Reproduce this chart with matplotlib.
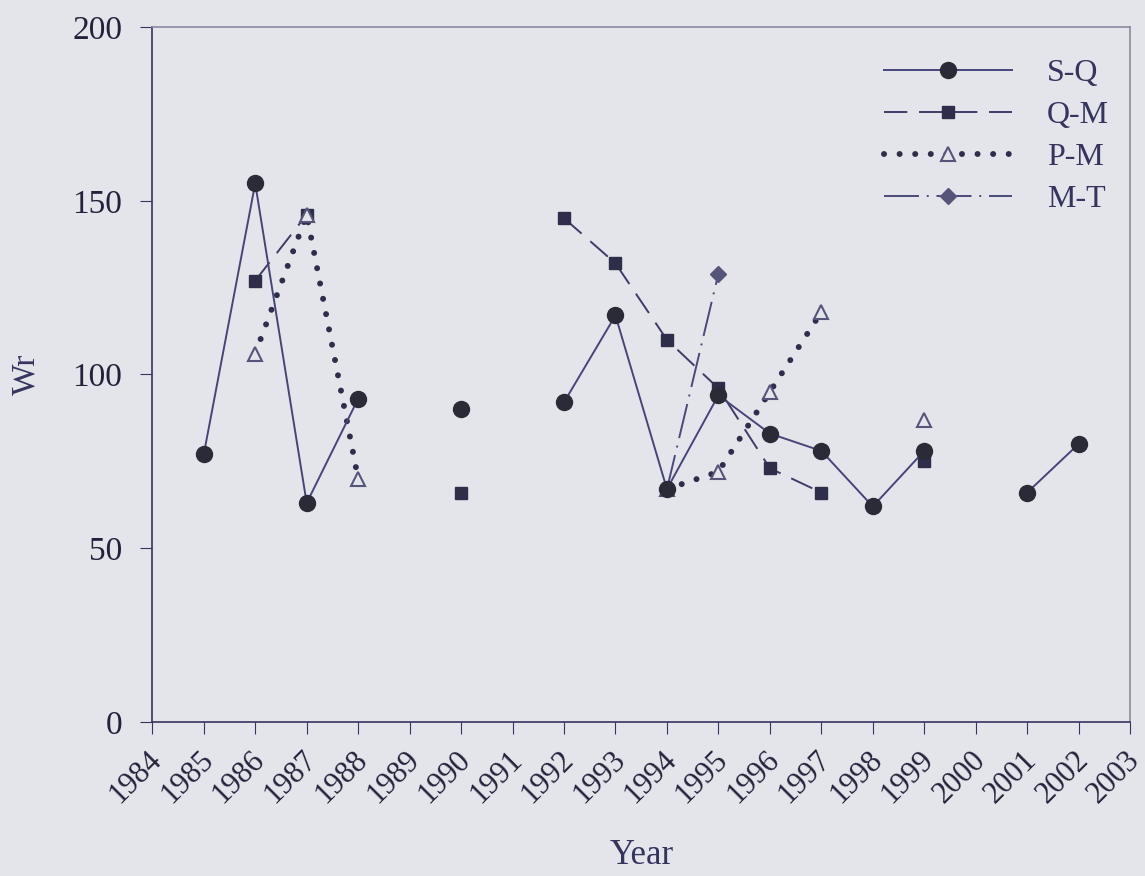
import numpy as np
import matplotlib
matplotlib.use("Agg")
import matplotlib.pyplot as plt
import matplotlib.transforms as mtransforms

years = list(range(1984, 2004))
nan = np.nan

# Wr per year, NaN where no value
sq = [nan, 77, 155, 63, 93, nan, 90, nan, 92, 117, 67, 94, 83, 78, 62, 78, nan, 66, 80, nan]
qm = [nan, nan, 127, 146, nan, nan, 66, nan, 145, 132, 110, 96, 73, 66, nan, 75, nan, nan, nan, nan]
pm = [nan, nan, 106, 146, 70, nan, nan, nan, nan, nan, 67, 72, 95, 118, nan, 87, nan, nan, nan, nan]
mt = [nan, nan, nan, nan, nan, nan, nan, nan, nan, nan, 67, 129, nan, nan, nan, nan, nan, nan, nan, nan]

bg = "#e4e5ea"
ink = "#34345e"

plt.rcParams["font.family"] = ["Liberation Serif", "DejaVu Serif"]

fig = plt.figure(figsize=(11.45, 8.76), dpi=100, facecolor=bg)
ax = fig.add_axes([0.133, 0.176, 0.854, 0.793], facecolor=bg)

ax.plot(years, qm, color="#3c3c66", lw=1.4, linestyle=(0, (12, 6)),
        marker="s", ms=8.5, mfc="#2e2e4a", mec="#2e2e4a", label="Q-M", zorder=3)
ax.plot(years, pm, color="#2e2e4a", lw=4.3, linestyle=(0, (0.01, 2.6)),
        dash_capstyle="round", marker="^", ms=10, mfc=bg, mec="#55557a",
        mew=1.5, label="P-M", zorder=4)
ax.plot(years, mt, color="#4a4a7a", lw=1.4, linestyle=(0, (18, 4, 1, 4)),
        marker="D", ms=8, mfc="#55557a", mec="#55557a", label="M-T", zorder=2)
ax.plot(years, sq, color="#45457a", lw=1.4, linestyle="-",
        marker="o", ms=11.5, mfc="#2b2b38", mec="#2b2b38", label="S-Q", zorder=5)

ax.set_xlim(1984, 2003)
ax.set_ylim(0, 200)
ax.set_xticks(years)
ax.set_yticks([0, 50, 100, 150, 200])
ax.tick_params(axis="y", labelsize=24, labelcolor="#22223a", length=8.5,
               color=ink, pad=13)
ax.tick_params(axis="x", length=8.5, color=ink, pad=4)
ax.set_xticklabels([str(y) for y in years], rotation=45, ha="right",
                   rotation_mode="anchor", fontsize=22, color="#22223a")
# nudge the rotated year labels (after tick_params, which resets transforms)
shift = mtransforms.ScaledTranslation(-5 / 100, -6 / 100, fig.dpi_scale_trans)
for lab in ax.get_xticklabels():
    lab.set_transform(lab.get_transform() + shift)

for s in ax.spines.values():
    s.set_color(ink)
    s.set_linewidth(1.2)
ax.spines["top"].set_color("#8a8aa0")
ax.spines["right"].set_color("#8a8aa0")

ax.set_xlabel("Year", fontsize=25, color=ink, labelpad=22)
ax.set_ylabel("Wr", fontsize=24, color=ink, labelpad=22)

handles, labels = ax.get_legend_handles_labels()
order = [3, 0, 1, 2]
leg = ax.legend([handles[i] for i in order], [labels[i] for i in order],
                loc="upper right", frameon=False, fontsize=23,
                handlelength=4.0, labelspacing=0.4, handletextpad=1.1,
                bbox_to_anchor=(1.008, 0.996))
for t in leg.get_texts():
    t.set_color(ink)

fig.savefig("out.png", dpi=100, facecolor=bg)
